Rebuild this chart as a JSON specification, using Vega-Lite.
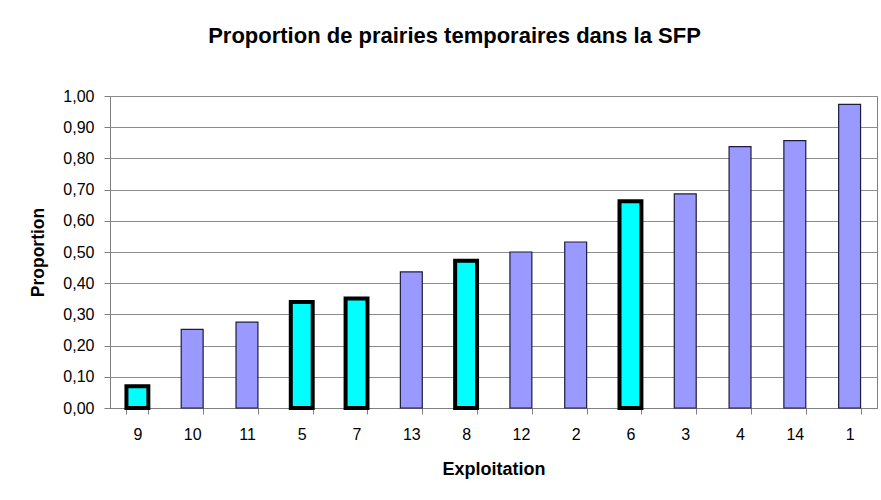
{
  "$schema": "https://vega.github.io/schema/vega-lite/v6.json",
  "width": 767,
  "height": 312,
  "autosize": {"type": "none"},
  "padding": {"left": 110, "top": 96, "right": 4, "bottom": 92},
  "background": "#ffffff",
  "title": {
    "text": "Proportion de prairies temporaires dans la SFP",
    "font": "Liberation Sans",
    "fontSize": 22,
    "fontWeight": "bold",
    "color": "#000000",
    "anchor": "middle",
    "frame": "group",
    "dx": -39,
    "offset": 40
  },
  "data": {
    "values": [
      {"exploitation": "9", "proportion": 0.07, "groupe": "B"},
      {"exploitation": "10", "proportion": 0.252, "groupe": "A"},
      {"exploitation": "11", "proportion": 0.275, "groupe": "A"},
      {"exploitation": "5", "proportion": 0.34, "groupe": "B"},
      {"exploitation": "7", "proportion": 0.351, "groupe": "B"},
      {"exploitation": "13", "proportion": 0.436, "groupe": "A"},
      {"exploitation": "8", "proportion": 0.472, "groupe": "B"},
      {"exploitation": "12", "proportion": 0.5, "groupe": "A"},
      {"exploitation": "2", "proportion": 0.532, "groupe": "A"},
      {"exploitation": "6", "proportion": 0.663, "groupe": "B"},
      {"exploitation": "3", "proportion": 0.686, "groupe": "A"},
      {"exploitation": "4", "proportion": 0.838, "groupe": "A"},
      {"exploitation": "14", "proportion": 0.857, "groupe": "A"},
      {"exploitation": "1", "proportion": 0.973, "groupe": "A"}
    ]
  },
  "mark": {"type": "bar"},
  "encoding": {
    "x": {
      "field": "exploitation",
      "type": "nominal",
      "sort": null,
      "scale": {"paddingInner": 0.6, "paddingOuter": 0.3},
      "axis": {
        "title": "Exploitation",
        "labelAngle": 0,
        "tickBand": "extent",
        "labelPadding": 12,
        "titlePadding": 18
      }
    },
    "y": {
      "field": "proportion",
      "type": "quantitative",
      "scale": {"domain": [0, 1], "nice": false},
      "axis": {
        "title": "Proportion",
        "values": [0, 0.1, 0.2, 0.3, 0.4, 0.5, 0.6, 0.7, 0.8, 0.9, 1],
        "labelExpr": "replace(format(datum.value, '.2f'), '.', ',')",
        "labelPadding": 10,
        "titlePadding": 15,
        "titleFontSize": 17.5,
        "grid": true
      }
    },
    "color": {
      "field": "groupe",
      "type": "nominal",
      "scale": {"domain": ["A", "B"], "range": ["#9999FF", "#00FFFF"]},
      "legend": null
    },
    "stroke": {
      "field": "groupe",
      "type": "nominal",
      "scale": {"domain": ["A", "B"], "range": ["#1c1c3c", "#000000"]},
      "legend": null
    },
    "strokeWidth": {
      "field": "groupe",
      "type": "nominal",
      "scale": {"domain": ["A", "B"], "range": [1.2, 4]},
      "legend": null
    }
  },
  "config": {
    "font": "Liberation Sans",
    "view": {"stroke": "#808080", "strokeWidth": 1},
    "axis": {
      "labelFont": "Liberation Sans",
      "labelFontSize": 16,
      "labelColor": "#000000",
      "titleFont": "Liberation Sans",
      "titleFontSize": 18,
      "titleFontWeight": "bold",
      "titleColor": "#000000",
      "domainColor": "#808080",
      "tickColor": "#808080",
      "tickSize": 6,
      "gridColor": "#8c8c8c",
      "gridOpacity": 1,
      "domainWidth": 1,
      "gridWidth": 1
    }
  }
}
